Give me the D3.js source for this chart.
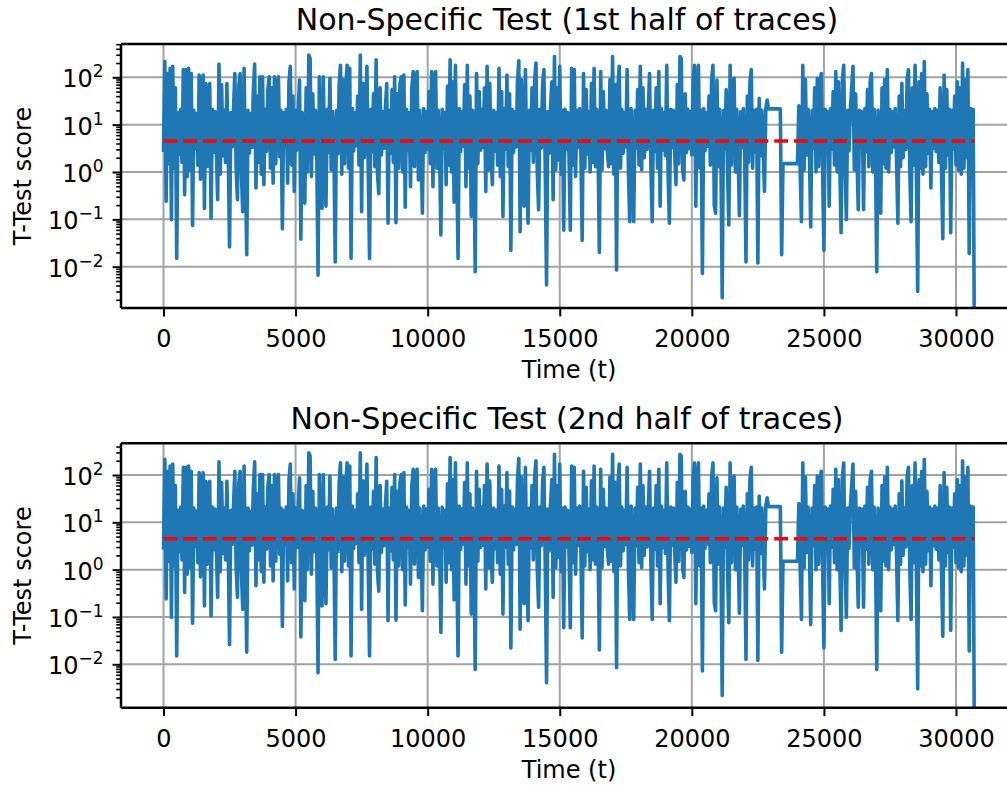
<!DOCTYPE html>
<html><head><meta charset="utf-8">
<script src="https://cdn.jsdelivr.net/npm/d3@7"></script>
<style>
body{margin:0;background:#fff}
svg{display:block}
text{font-family:"DejaVu Sans",sans-serif;fill:#000}
</style>
</head><body>
<svg id="chart" width="1007" height="785"></svg>
<script>
// ---- data ----
const sampleStep = 50;              // time units between consecutive samples
const scoresFirstHalf = [
2.9,215,0.24,120,1.5,155,0.098,170,1.2,60,
0.015,18,2.4,21,1.6,145,0.33,145,0.8,155,
1.1,120,0.074,20,3.1,17,1.4,112,0.7,60,
112,0.17,74,1.3,45,74,0.105,21,2.6,19,
3.2,0.26,190,0.9,70,2.2,20,1.6,74,2.8,
0.026,18,3.4,22,120,1.1,0.26,65,120,0.9,
0.145,155,1.8,0.018,20,2.5,17,3.3,50,190,
0.46,40,1.6,102,0.9,102,0.54,21,2.7,55,
102,1.2,60,0.58,102,1.5,45,102,2.1,20,
0.063,18,3.5,21,0.58,80,170,1.4,40,0.39,
20,2.9,22,87,0.038,18,2.2,0.22,60,1.0,
295,250,0.8,45,2.4,20,3.1,0.0066,102,1.3,
0.17,102,1.8,0.19,21,2.6,95,1.1,19,3.3,
0.0126,20,2.4,70,180,0.9,90,1.5,60,180,
1.2,155,0.015,22,2.8,18,3.6,40,1.4,295,
0.145,75,2.0,20,170,1.1,0.015,21,2.7,45,
1.3,235,0.9,0.35,60,2.3,19,3.2,22,74,
0.083,20,2.5,55,1.6,102,0.085,45,1.2,70,
102,1.0,112,0.18,21,2.9,18,0.49,60,132,
1.3,80,132,0.68,20,3.4,0.135,22,2.6,19,
3.0,50,1.5,132,0.49,90,132,1.2,20,2.8,
0.047,21,3.1,18,0.54,65,1.4,235,1.0,80,
0.23,180,1.6,0.015,22,2.7,19,3.5,70,0.49,
180,1.2,40,0.115,20,2.4,0.0078,120,1.5,50,
2.9,21,3.3,60,0.39,170,1.1,75,2.0,0.54,
20,2.8,18,1.4,155,0.8,50,0.115,22,3.0,
112,1.3,45,0.022,21,2.6,19,3.4,80,224,
0.055,90,1.5,0.19,145,1.2,0.083,20,2.9,60,
1.6,90,200,1.0,0.16,21,3.2,70,145,1.3,
0.0041,19,2.5,22,80,0.26,275,1.1,60,1.8,
170,0.9,20,0.059,21,3.0,18,2.2,0.059,155,
1.4,145,0.8,20,3.3,22,2.6,0.036,120,1.2,
55,2.4,19,1.0,75,1.6,155,1.3,21,2.8,
0.02,132,1.1,50,3.1,20,2.7,1.3,90,1.5,
275,0.9,70,0.0085,60,170,1.2,21,2.5,18,
3.4,145,1.0,0.089,22,2.6,0.089,20,3.2,55,
1.4,170,1.1,60,2.0,21,3.0,19,120,1.3,
0.089,20,2.7,60,1.2,132,0.19,22,2.9,18,
2.2,180,1.0,0.083,21,3.3,20,2.4,0.54,70,
1.5,275,250,1.1,0.68,45,2.6,21,3.1,19,
2.3,90,180,0.19,60,180,1.2,20,0.0072,22,
2.8,18,3.5,40,1.4,90,180,0.2,0.135,87,
1.3,21,2.5,0.0022,20,3.0,55,1.1,0.076,180,
1.4,60,95,1.0,21,2.9,0.12,19,3.3,22,
2.4,0.0126,40,1.6,80,145,1.2,20,2.7,21,
0.012,36,2.2,20,3.1,0.39,22,33,21.5,21.5,
21.5,21.5,21.5,21.5,21.5,21.5,21.5,21.5,0.018,1.5,
1.5,1.5,1.5,1.5,1.5,1.5,1.5,1.5,1.5,1.5,
1.5,25,1.2,0.089,180,1.1,90,2.3,21,2.9,
0.069,20,3.2,60,1.0,95,1.3,70,120,1.1,
0.022,21,2.6,19,0.19,22,3.0,50,1.4,132,
1.0,80,1.6,0.052,90,180,1.2,0.098,20,2.8,
21,60,170,1.1,45,2.4,0.16,20,3.3,19,
0.16,22,2.7,55,1.3,80,120,1.0,21,2.9,
0.0078,20,3.1,0.135,60,1.5,90,1.2,145,1.0,
21,2.6,19,3.4,22,1.8,0.083,40,1.3,75,
2.0,20,3.0,90,145,1.1,0.089,60,1.4,180,
1.0,0.003,80,1.2,120,0.9,215,1.3,45,2.5,
21,0.46,19,3.2,22,2.7,20,1.6,60,1.1,
0.039,112,1.2,55,2.3,21,0.052,20,3.0,40,
1.4,80,1.1,60,0.9,200,1.2,90,2.0,145,
0.019,22,21,21,0
];
// the second half of traces gives a trace that is indistinguishable at this resolution
const scoresSecondHalf = scoresFirstHalf.slice();
const threshold = 4.5;
const xTickValues = [0, 5000, 10000, 15000, 20000, 25000, 30000];
const yTickExponents = [-2, -1, 0, 1, 2];
const titles = ["Non-Specific Test (1st half of traces)", "Non-Specific Test (2nd half of traces)"];
const xLabel = "Time (t)";
const yLabel = "T-Test score";

// ---- layout ----
const svg = d3.select("#chart");
const axLeft = 121, axRight = 1017;
const panels = [
  {scores: scoresFirstHalf, title: titles[0], top: 44, bottom: 308, y1e2: 77.3, y1em2: 266.7},
  {scores: scoresSecondHalf, title: titles[1], top: 443.3, bottom: 707.7, y1e2: 475, y1em2: 664.3}
];
const x = d3.scaleLinear().domain([0, 30000]).range([163.5, 956]);
const blue = "#1f77b4", gridCol = "#a3a3a3";

panels.forEach((p, pi) => {
  const y = d3.scaleLog().domain([1e-2, 1e2]).range([p.y1em2, p.y1e2]);
  const g = svg.append("g");
  const clipId = "clip" + pi;
  svg.append("clipPath").attr("id", clipId).append("rect")
    .attr("x", axLeft).attr("y", p.top).attr("width", axRight - axLeft).attr("height", p.bottom - p.top);

  // grid
  const grid = g.append("g").attr("clip-path", `url(#${clipId})`);
  grid.selectAll("line.gx").data(xTickValues).join("line")
    .attr("x1", d => x(d)).attr("x2", d => x(d)).attr("y1", p.top).attr("y2", p.bottom)
    .attr("stroke", gridCol).attr("stroke-width", 2);
  grid.selectAll("line.gy").data(yTickExponents).join("line")
    .attr("x1", axLeft).attr("x2", axRight)
    .attr("y1", d => y(Math.pow(10, d))).attr("y2", d => y(Math.pow(10, d)))
    .attr("stroke", gridCol).attr("stroke-width", 2);

  // trace
  const plot = g.append("g").attr("clip-path", `url(#${clipId})`);
  const line = d3.line()
    .x((d, i) => x(i * sampleStep))
    .y(d => d > 0 ? y(d) : p.bottom + 60);
  plot.append("path").datum(p.scores).attr("d", line)
    .attr("fill", "none").attr("stroke", blue).attr("stroke-width", 3.6)
    .attr("stroke-linejoin", "round").attr("stroke-linecap", "square");
  const tEnd = (p.scores.length - 1) * sampleStep;
  plot.append("line")
    .attr("x1", x(0)).attr("x2", x(tEnd)).attr("y1", y(threshold)).attr("y2", y(threshold))
    .attr("stroke", "#ff0000").attr("stroke-width", 3.6).attr("stroke-dasharray", "13.8,5.9");

  // spines
  g.append("line").attr("x1", axLeft).attr("x2", axLeft).attr("y1", p.top).attr("y2", p.bottom)
    .attr("stroke", "#000").attr("stroke-width", 2.5);
  g.append("line").attr("x1", axLeft).attr("x2", axRight).attr("y1", p.top).attr("y2", p.top)
    .attr("stroke", "#000").attr("stroke-width", 2.5);
  g.append("line").attr("x1", axLeft).attr("x2", axRight).attr("y1", p.bottom).attr("y2", p.bottom)
    .attr("stroke", "#000").attr("stroke-width", 2.5);

  // x axis
  const xa = g.append("g").attr("transform", `translate(0,${p.bottom})`)
    .call(d3.axisBottom(x).tickValues(xTickValues).tickSize(8.4).tickFormat(d3.format("d")));
  xa.select(".domain").remove();
  xa.selectAll(".tick line").attr("stroke", "#000").attr("stroke-width", 2);
  xa.selectAll(".tick text").attr("y", 39).attr("dy", null)
    .attr("font-size", 24).attr("font-family", "DejaVu Sans").attr("fill", "#000");

  // y axis (major)
  const ya = g.append("g").attr("transform", `translate(${axLeft},0)`)
    .call(d3.axisLeft(y).tickValues(yTickExponents.map(e => Math.pow(10, e))).tickSize(8.4).tickFormat(""));
  ya.select(".domain").remove();
  ya.selectAll(".tick line").attr("stroke", "#000").attr("stroke-width", 2);
  ya.selectAll(".tick text").each(function(d) {
    const t = d3.select(this);
    const e = Math.round(Math.log10(d));
    t.text(null).attr("x", -17.5).attr("y", 9.4).attr("dy", null)
      .attr("text-anchor", "end").attr("font-size", 24).attr("font-family", "DejaVu Sans").attr("fill", "#000");
    t.append("tspan").text("10");
    t.append("tspan").attr("dy", -10).attr("font-size", 17).text(e < 0 ? "\u2212" + (-e) : String(e));
  });
  // minor ticks
  const minors = [];
  for (let k = -3; k <= 2; k++) for (let m = 2; m <= 9; m++) minors.push(m * Math.pow(10, k));
  const visMinors = minors.filter(v => y(v) >= p.top - 0.5 && y(v) <= p.bottom + 0.5);
  const ym = g.append("g").attr("transform", `translate(${axLeft},0)`)
    .call(d3.axisLeft(y).tickValues(visMinors).tickSize(4.8).tickFormat(""));
  ym.select(".domain").remove();
  ym.selectAll(".tick line").attr("stroke", "#000").attr("stroke-width", 1.6);

  // labels
  svg.append("text").attr("x", (axLeft + axRight) / 2 - 2).attr("y", p.top - 14.4)
    .attr("text-anchor", "middle").attr("font-size", 30).text(p.title);
  svg.append("text").attr("x", (axLeft + axRight) / 2).attr("y", p.bottom + 70)
    .attr("text-anchor", "middle").attr("font-size", 24).text(xLabel);
  svg.append("text").attr("transform", `translate(31,${(p.top + p.bottom) / 2}) rotate(-90)`)
    .attr("text-anchor", "middle").attr("font-size", 24).text(yLabel);
});
</script>
</body></html>
